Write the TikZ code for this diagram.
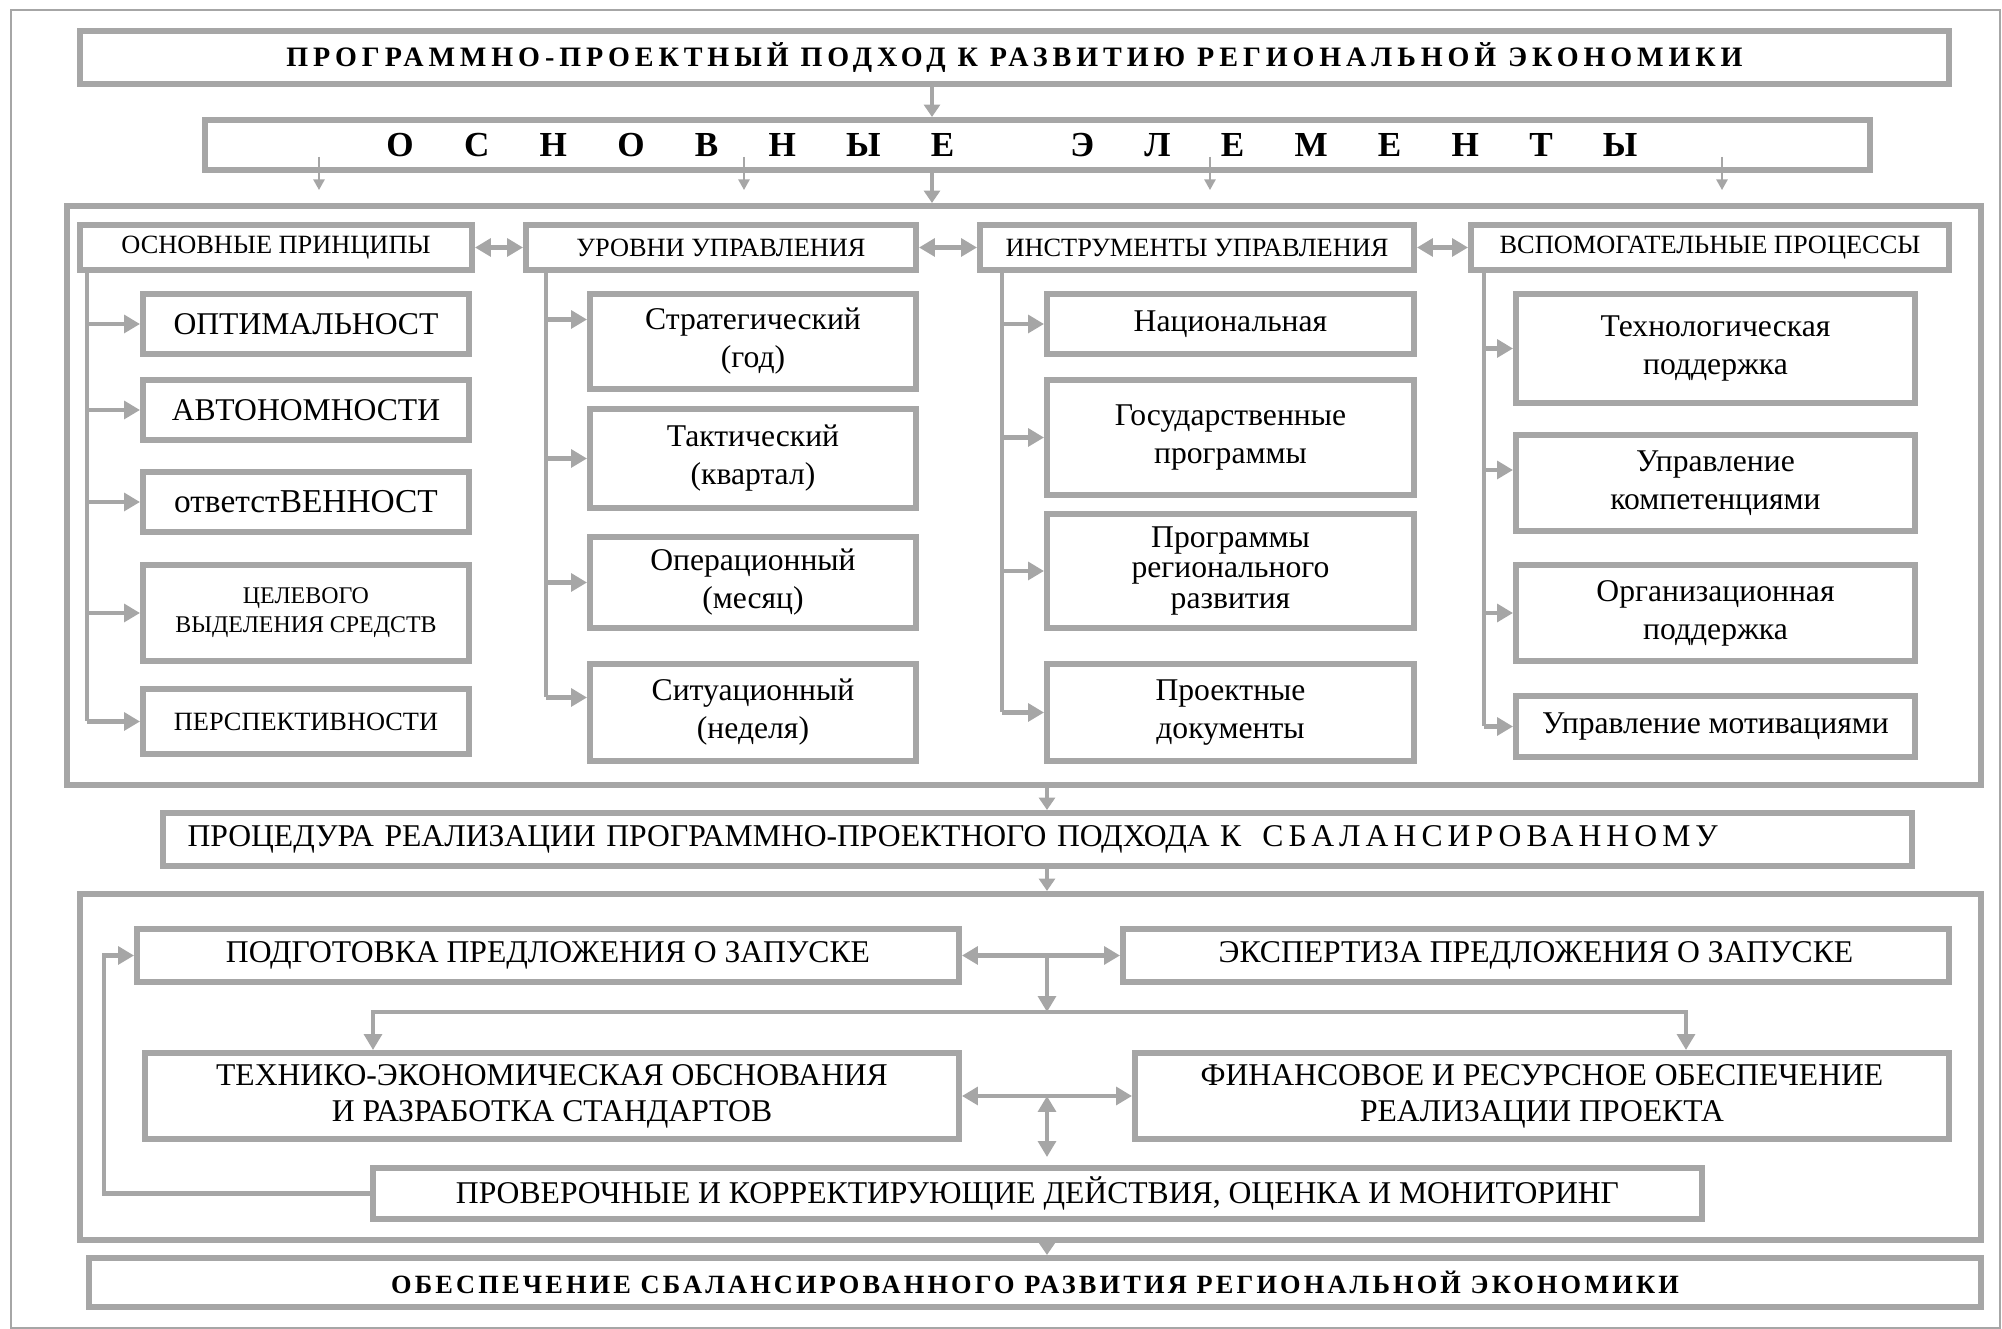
\documentclass[tikz,border=0pt]{standalone}
\usepackage{fontspec}
\setmainfont{Liberation Serif}
\newfontfamily\trackedfont{Liberation Serif}[LetterSpace=17.5]
\newfontfamily\trackedlow{Liberation Serif}[LetterSpace=12]
\newfontfamily\spreadfont{Liberation Serif}[LetterSpace=16]
\usetikzlibrary{arrows.meta}
\usetikzlibrary{positioning}
\definecolor{linegray}{RGB}{166,166,166}
\tikzset{
area/.style={ % Big frames that hold a group of boxes
draw=linegray,
line width=1.7pt,
inner sep=0pt},
block/.style={ % Every framed box with text
draw=linegray,
line width=1.7pt,
fill=white,
align=center,
inner sep=1pt,
font=\fontsize{9}{10.8}\selectfont},
head/.style={block, font=\fontsize{7.5}{9}\selectfont},
link/.style={ % Single arrow, thick shaft
draw=linegray,
line width=1.4pt,
-{Triangle[length=4.5pt,width=5pt]}},
dlink/.style={ % Arrow in both directions
draw=linegray,
line width=1.4pt,
{Triangle[length=4.5pt,width=5pt]}-{Triangle[length=4.5pt,width=5pt]}},
slink/.style={ % Short arrows between the main stages
draw=linegray,
line width=1.1pt,
-{Triangle[length=3.5pt,width=4.5pt]}},
thinlink/.style={
draw=linegray,
line width=0.5pt,
-{Triangle[length=3pt,width=3.2pt]}},
trunk/.style={draw=linegray, line width=1.4pt}}

\begin{document}
\begin{tikzpicture}
\useasboundingbox (0,0) rectangle (20.02,-13.29);
\draw[linegray, line width=0.8pt] (0.11,-0.10) rectangle (20.0,-13.28);

% containers
\node[area, minimum width=19.14cm, minimum height=5.79cm] (sec1) at (10.24,-4.955) {};
\node[area, minimum width=19.01cm, minimum height=3.46cm] (sec2) at (10.305,-10.67) {};

% top
\node[block, minimum width=18.69cm, minimum height=0.53cm] (title) at (10.145,-0.575)
{\trackedfont\bfseries\fontsize{8}{10}\selectfont ПРОГРАММНО-ПРОЕКТНЫЙ ПОДХОД К РАЗВИТИЮ РЕГИОНАЛЬНОЙ ЭКОНОМИКИ};
\node[block, minimum width=16.65cm, minimum height=0.50cm] (elem) at (10.375,-1.45)
{\hspace*{-0.51cm}\bfseries\fontsize{10}{12}\selectfont\spaceskip=14.3pt О С Н О В Н Ы Е\hspace{33pt}Э Л Е М Е Н Т Ы};

% column heads
\node[head, minimum width=3.92cm, minimum height=0.45cm] (h1) at (2.76,-2.475) {ОСНОВНЫЕ ПРИНЦИПЫ};
\node[head, minimum width=3.90cm, minimum height=0.45cm] (h2) at (7.21,-2.475) {УРОВНИ УПРАВЛЕНИЯ};
\node[head, minimum width=4.34cm, minimum height=0.45cm] (h3) at (11.97,-2.475) {ИНСТРУМЕНТЫ УПРАВЛЕНИЯ};
\node[head, minimum width=4.78cm, minimum height=0.45cm] (h4) at (17.10,-2.475) {ВСПОМОГАТЕЛЬНЫЕ ПРОЦЕССЫ};

% principles
\node[block, minimum width=3.26cm, minimum height=0.60cm] (p1) at (3.06,-3.24) {ОПТИМАЛЬНОСТ};
\node[block, minimum width=3.26cm, minimum height=0.60cm] (p2) at (3.06,-4.10) {АВТОНОМНОСТИ};
\node[block, minimum width=3.26cm, minimum height=0.60cm, font=\fontsize{9.5}{11}\selectfont] (p3) at (3.06,-5.02) {ответстВЕННОСТ};
\node[block, minimum width=3.26cm, minimum height=0.96cm, font=\fontsize{6.8}{8.3}\selectfont] (p4) at (3.06,-6.13) {ЦЕЛЕВОГО\\ВЫДЕЛЕНИЯ СРЕДСТВ};
\node[block, minimum width=3.26cm, minimum height=0.65cm, font=\fontsize{7.5}{9}\selectfont] (p5) at (3.06,-7.215) {ПЕРСПЕКТИВНОСТИ};

% levels
\node[block, minimum width=3.26cm, minimum height=0.95cm] (l1) at (7.53,-3.415) {Стратегический\\(год)};
\node[block, minimum width=3.26cm, minimum height=0.99cm] (l2) at (7.53,-4.585) {Тактический\\(квартал)};
\node[block, minimum width=3.26cm, minimum height=0.91cm] (l3) at (7.53,-5.825) {Операционный\\(месяц)};
\node[block, minimum width=3.26cm, minimum height=0.97cm] (l4) at (7.53,-7.125) {Ситуационный\\(неделя)};

% tools
\node[block, minimum width=3.67cm, minimum height=0.60cm] (i1) at (12.305,-3.24) {Национальная};
\node[block, minimum width=3.67cm, minimum height=1.15cm] (i2) at (12.305,-4.375) {Государственные\\программы};
\node[block, minimum width=3.67cm, minimum height=1.14cm, font=\fontsize{9}{8.8}\selectfont] (i3) at (12.305,-5.71) {Программы\\регионального\\развития};
\node[block, minimum width=3.67cm, minimum height=0.97cm] (i4) at (12.305,-7.125) {Проектные\\документы};

% support
\node[block, minimum width=3.99cm, minimum height=1.09cm] (s1) at (17.155,-3.485) {Технологическая\\поддержка};
\node[block, minimum width=3.99cm, minimum height=0.96cm] (s2) at (17.155,-4.83) {Управление\\компетенциями};
\node[block, minimum width=3.99cm, minimum height=0.96cm] (s3) at (17.155,-6.13) {Организационная\\поддержка};
\node[block, minimum width=3.99cm, minimum height=0.61cm] (s4) at (17.155,-7.265) {Управление мотивациями};

% procedure
\node[block, minimum width=17.49cm, minimum height=0.53cm, text width=17.0cm, align=left] (proc) at (10.375,-8.395)
{ПРОЦЕДУРА РЕАЛИЗАЦИИ ПРОГРАММНО-ПРОЕКТНОГО ПОДХОДА К\ \ {\spreadfont СБАЛАНСИРОВАННОМУ}};
\node[block, minimum width=8.22cm, minimum height=0.53cm] (prep) at (5.48,-9.555) {ПОДГОТОВКА ПРЕДЛОЖЕНИЯ О ЗАПУСКЕ};
\node[block, minimum width=8.26cm, minimum height=0.53cm] (exp) at (15.36,-9.555) {ЭКСПЕРТИЗА ПРЕДЛОЖЕНИЯ О ЗАПУСКЕ};
\node[block, minimum width=8.14cm, minimum height=0.86cm, font=\fontsize{9}{10.2}\selectfont] (tech) at (5.52,-10.96) {ТЕХНИКО-ЭКОНОМИЧЕСКАЯ ОБСНОВАНИЯ\\И РАЗРАБОТКА СТАНДАРТОВ};
\node[block, minimum width=8.14cm, minimum height=0.86cm, font=\fontsize{9}{10.2}\selectfont] (fin) at (15.42,-10.96) {ФИНАНСОВОЕ И РЕСУРСНОЕ ОБЕСПЕЧЕНИЕ\\РЕАЛИЗАЦИИ ПРОЕКТА};
\node[block, minimum width=13.29cm, minimum height=0.51cm] (check) at (10.375,-11.935) {ПРОВЕРОЧНЫЕ И КОРРЕКТИРУЮЩИЕ ДЕЙСТВИЯ, ОЦЕНКА И МОНИТОРИНГ};
\node[block, minimum width=18.92cm, minimum height=0.49cm] (final) at (10.35,-12.825)
{\trackedlow\bfseries\fontsize{7.5}{9}\selectfont ОБЕСПЕЧЕНИЕ СБАЛАНСИРОВАННОГО РАЗВИТИЯ РЕГИОНАЛЬНОЙ ЭКОНОМИКИ};

% guide coordinates
\coordinate (xa) at (9.32,0);
\coordinate (xb) at (10.47,0);
\coordinate (k1) at (0.87,0);
\coordinate (k2) at (5.46,0);
\coordinate (k3) at (10.02,0);
\coordinate (k4) at (14.84,0);
\coordinate (d1) at (3.19,0);
\coordinate (d2) at (7.44,0);
\coordinate (d3) at (12.10,0);
\coordinate (d4) at (17.22,0);
\coordinate (fb) at (1.04,0);
\coordinate (busL) at (3.73,-10.12);
\coordinate (busR) at (16.86,-10.12);

% top arrows
\draw[slink] (title.south -| xa) -- (elem.north -| xa);
\draw[slink] (elem.south -| xa) -- (sec1.north -| xa);
\foreach \d in {d1,d2,d3,d4}
  \draw[thinlink, shorten <=-0.16cm, shorten >=0.13cm] (elem.south -| \d) -- (sec1.north -| \d);

% heads
\draw[dlink] (h1.east) -- (h2.west);
\draw[dlink] (h2.east) -- (h3.west);
\draw[dlink] (h3.east) -- (h4.west);

% trunks and branches
\draw[trunk] (h1.south -| k1) -- (p5.west -| k1);
\foreach \n in {p1,p2,p3,p4,p5}
  \draw[link] (\n.west -| k1) -- (\n.west);
\draw[trunk] (h2.south -| k2) -- ([yshift=0.15cm]l4.west -| k2);
\draw[link] ([yshift=0.22cm]l1.west -| k2) -- ([yshift=0.22cm]l1.west);
\draw[link] (l2.west -| k2) -- (l2.west);
\draw[link] (l3.west -| k2) -- (l3.west);
\draw[link] ([yshift=0.15cm]l4.west -| k2) -- ([yshift=0.15cm]l4.west);
\draw[trunk] (h3.south -| k3) -- (i4.west -| k3);
\foreach \n in {i1,i2,i3,i4}
  \draw[link] (\n.west -| k3) -- (\n.west);
\draw[trunk] (h4.south -| k4) -- (s4.west -| k4);
\draw[link] (s1.west -| k4) -- (s1.west);
\draw[link] ([yshift=0.13cm]s2.west -| k4) -- ([yshift=0.13cm]s2.west);
\draw[link] (s3.west -| k4) -- (s3.west);
\draw[link] (s4.west -| k4) -- (s4.west);

% procedure
\draw[slink] (sec1.south -| xb) -- (proc.north -| xb);
\draw[slink] (proc.south -| xb) -- (sec2.north -| xb);
\draw[dlink] (prep.east) -- (exp.west);
\draw[link] (prep.east -| xb) -- (busL -| xb);
\draw[link] (busL -| xb) -| (tech.north -| busL);
\draw[link] (busL -| xb) -| (fin.north -| busR);
\draw[dlink] (tech.east) -- (fin.west);
\draw[dlink] (tech.east -| xb) -- ([yshift=0.08cm]check.north -| xb);
\draw[link] (check.west) -- (check.west -| fb) |- (prep.west);
\draw[slink] (sec2.south -| xb) -- (final.north -| xb);
\end{tikzpicture}
\end{document}
